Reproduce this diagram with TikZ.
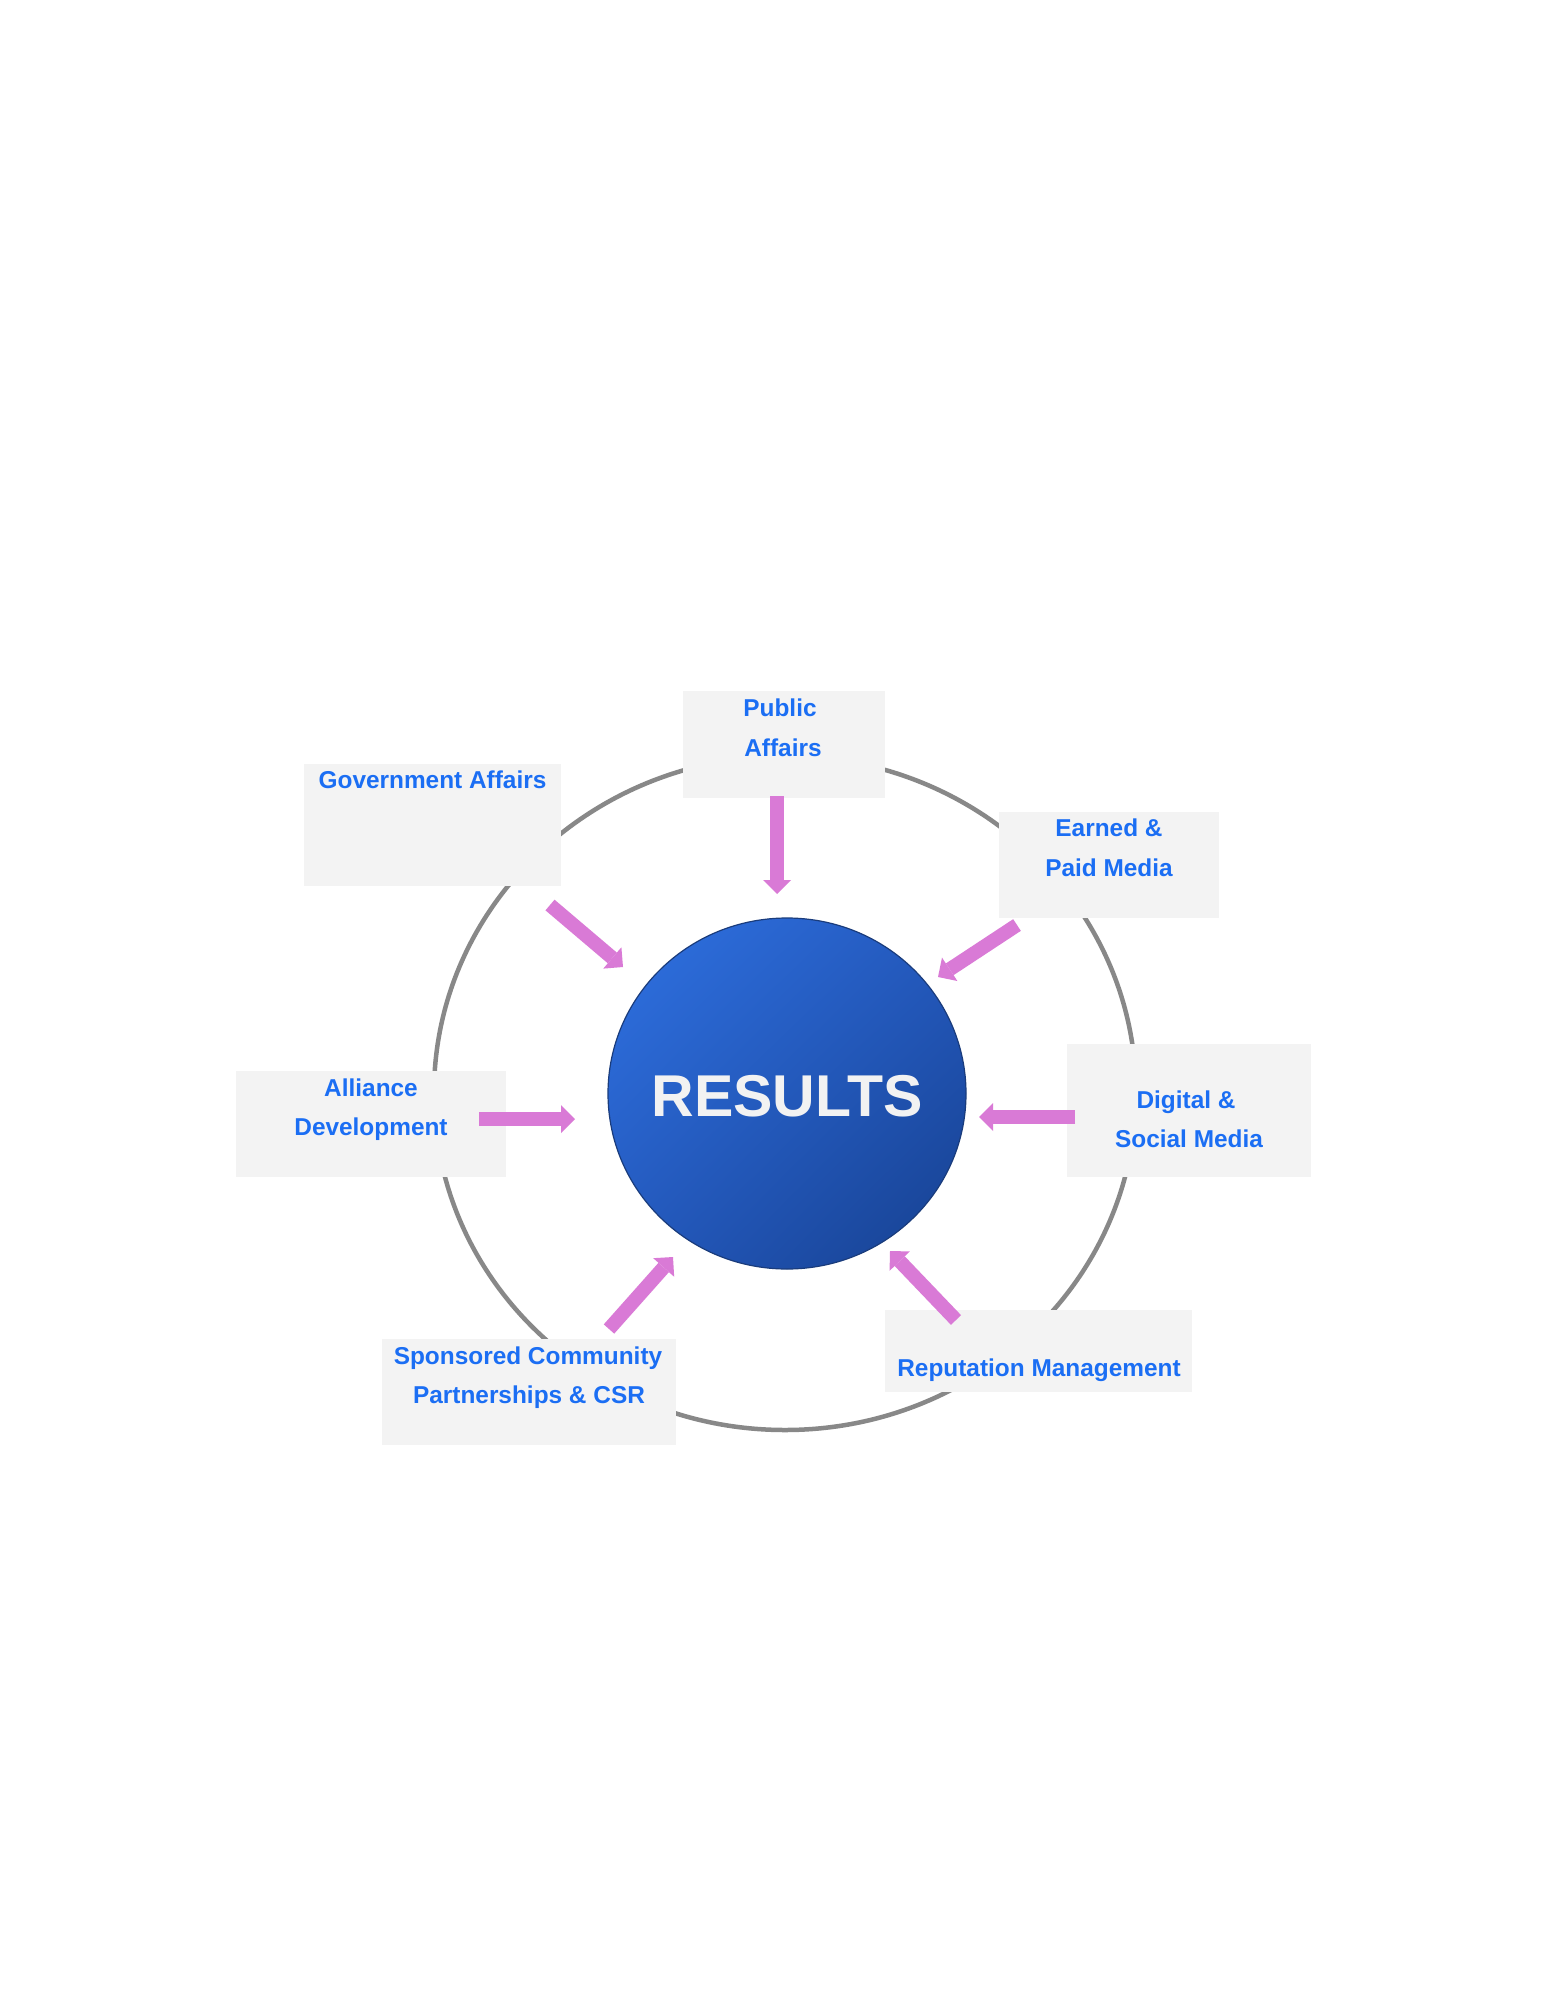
\documentclass[tikz,border=0pt]{standalone}
\usepackage{fontspec}
\setmainfont{Liberation Sans}
\usetikzlibrary{arrows.meta,shapes.geometric,shadings}
\definecolor{boxgray}{HTML}{F3F3F3}
\definecolor{lblblue}{HTML}{1B6EF3}
\definecolor{arrowpink}{HTML}{D97AD6}
\definecolor{ringgray}{HTML}{888888}
\definecolor{resA}{HTML}{2F72E3}
\definecolor{resB}{HTML}{2459BD}
\definecolor{resC}{HTML}{16408F}
\definecolor{resedge}{HTML}{1A3C7C}
\definecolor{restext}{HTML}{F2F2F2}
\begin{document}
\begin{tikzpicture}[x=1pt,y=-1pt,
  panel/.style={fill=boxgray, draw=none, inner sep=0pt, outer sep=0pt, rectangle},
  lbl/.style={text=lblblue, font=\fontsize{24.4}{40}\selectfont\bfseries, anchor=base, inner sep=0pt},
  feed/.style={draw=arrowpink, line width=14pt, line cap=butt,
    -{Triangle[length=14pt 0 0, width=28pt 0 0, line width=0pt 0 0]}},
]
\useasboundingbox (0,0) rectangle (1545,1999);
\fill[white] (0,0) rectangle (1545,1999);
% ring
\draw[ringgray, line width=4.5pt] (785,1093) ellipse [x radius=351, y radius=337];
% boxes
\node[panel, minimum width=257pt, minimum height=122pt] (gov) at (432.5,825) {};
\node[panel, minimum width=202pt, minimum height=107pt] (pub) at (784,744.5) {};
\node[panel, minimum width=220pt, minimum height=106pt] (earn) at (1109,865) {};
\node[panel, minimum width=270pt, minimum height=106pt] (alli) at (371,1124) {};
\node[panel, minimum width=244pt, minimum height=133pt] (digi) at (1189,1110.5) {};
\node[panel, minimum width=294pt, minimum height=106pt] (spon) at (529,1392) {};
\node[panel, minimum width=307pt, minimum height=82pt] (repu) at (1038.5,1351) {};
% labels
\node[lbl] (govT) at (432.5,788) {Government Affairs};
\node[lbl] (pubT1) at (780,716) {Public};
\node[lbl] (pubT2) at (783,756) {Affairs};
\node[lbl] (earnT1) at (1109,836) {Earned \&};
\node[lbl] (earnT2) at (1109,876) {Paid Media};
\node[lbl] (alliT1) at (371,1096) {Alliance};
\node[lbl] (alliT2) at (371,1135) {Development};
\node[lbl] (digiT1) at (1186,1108) {Digital \&};
\node[lbl] (digiT2) at (1189,1147) {Social Media};
\node[lbl] (sponT1) at (528,1364) {Sponsored Community};
\node[lbl] (sponT2) at (529,1403) {Partnerships \& CSR};
\node[lbl] (repuT) at (1039,1376) {Reputation Management};
% centre
\node[ellipse, draw=resedge, line width=1.2pt, minimum width=358pt, minimum height=351pt, inner sep=0pt,
  upper left=resA, upper right=resB, lower left=resB, lower right=resC] (res) at (787,1093.5) {};
\node[anchor=base, inner sep=0pt, text=restext, font=\fontsize{59}{62}\selectfont\bfseries] (resT) at (787,1116) {RESULTS};
% arrow end points
\coordinate (pubA) at (777,796);   \coordinate (pubB) at (777,894);
\coordinate (govA) at (550,905);   \coordinate (govB) at (623,967);
\coordinate (earnA) at (1017,925); \coordinate (earnB) at (938,977);
\coordinate (alliA) at (479,1119); \coordinate (alliB) at (575,1119);
\coordinate (digiA) at (1075,1117);\coordinate (digiB) at (979,1117);
\coordinate (sponA) at (609,1329); \coordinate (sponB) at (673,1257);
\coordinate (repuA) at (956,1320); \coordinate (repuB) at (890,1251);
\draw[feed] (pubA) -- (pubB);
\draw[feed] (govA) -- (govB);
\draw[feed] (earnA) -- (earnB);
\draw[feed] (alliA) -- (alliB);
\draw[feed] (digiA) -- (digiB);
\draw[feed] (sponA) -- (sponB);
\draw[feed] (repuA) -- (repuB);
\end{tikzpicture}
\end{document}
